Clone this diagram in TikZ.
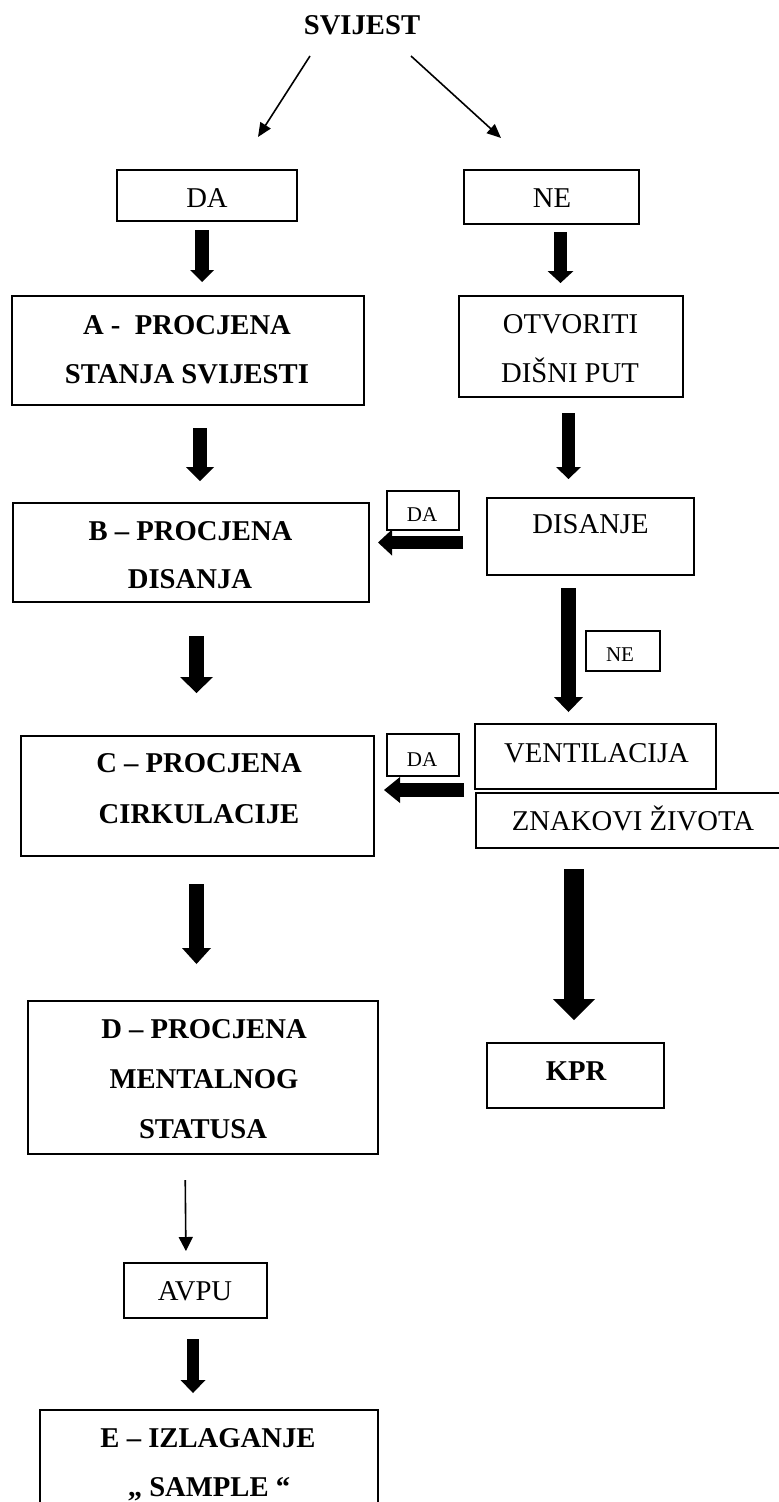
\documentclass[tikz,border=0pt]{standalone}
\usepackage{fontspec}
\setmainfont{Liberation Serif}
\usetikzlibrary{arrows.meta,fit}
\begin{document}
\begin{tikzpicture}[x=0.75pt,y=-0.75pt,
  box/.style={draw, line width=0.9pt, inner sep=0pt, outer sep=0pt},
  bt/.style={font=\fontsize{21.5}{26}\selectfont\bfseries, anchor=base, inner sep=0pt},
  rt/.style={font=\fontsize{21.5}{26}\selectfont, anchor=base, inner sep=0pt},
  st/.style={font=\fontsize{15.75}{19}\selectfont, anchor=base, inner sep=0pt},
  thinarr/.style={line width=1.2pt, -{Triangle[length=10.5pt,width=9pt]}},
  blockarrow/.style n args={3}{line width=#1, -{Triangle[width=#2,length=#3,line width=0pt]}}]
\useasboundingbox (0,0) rectangle (778,1502);

% title
\node[bt] (SV) at (362,35) {SVIJEST};

% boxes
\node[box, fit={(117,170)(297,221)}] (DAtop) {};
\node[box, fit={(464,170)(639,224)}] (NEtop) {};
\node[box, fit={(12,296)(364,405)}] (A) {};
\node[box, fit={(459,296)(683,397)}] (OTV) {};
\node[box, fit={(13,503)(369,602)}] (B) {};
\node[box, fit={(387,491)(459,530)}] (DAs1) {};
\node[box, fit={(487,498)(694,575)}] (DIS) {};
\node[box, fit={(586,631)(660,671)}] (NEs) {};
\node[box, fit={(21,736)(374,856)}] (C) {};
\node[box, fit={(387,734)(459,776)}] (DAs2) {};
\node[box, fit={(475,724)(716,789)}] (VENT) {};
\node[box, fit={(476,793)(780,848)}] (ZNAK) {};
\node[box, fit={(487,1043)(664,1108)}] (KPR) {};
\node[box, fit={(28,1001)(378,1154)}] (D) {};
\node[box, fit={(124,1263)(267,1318)}] (AVPU) {};
\node[box, fit={(40,1410)(378,1515)}] (E) {};

% texts
\node[rt] (tDAtop) at (207,207) {DA};
\node[rt] (tNEtop) at (552,207) {NE};
\node[bt] (tA1) at (187,334) {A -\ \ PROCJENA};
\node[bt] (tA2) at (187,383) {STANJA SVIJESTI};
\node[rt] (tO1) at (570.5,333) {OTVORITI};
\node[rt] (tO2) at (570,382) {DIŠNI PUT};
\node[bt] (tB1) at (190.5,540) {B – PROCJENA};
\node[bt] (tB2) at (190,588) {DISANJA};
\node[st] (tDAs1) at (422,521) {DA};
\node[rt] (tDIS) at (590.5,533) {DISANJE};
\node[st] (tNEs) at (620,661) {NE};
\node[bt] (tC1) at (199,772) {C – PROCJENA};
\node[bt] (tC2) at (199,823) {CIRKULACIJE};
\node[st] (tDAs2) at (422,766) {DA};
\node[rt] (tVENT) at (596.5,762) {VENTILACIJA};
\node[rt] (tZNAK) at (633,830) {ZNAKOVI ŽIVOTA};
\node[bt] (tKPR) at (576,1080) {KPR};
\node[bt] (tD1) at (204,1038) {D – PROCJENA};
\node[bt] (tD2) at (204,1088) {MENTALNOG};
\node[bt] (tD3) at (203,1138) {STATUSA};
\node[rt] (tAVPU) at (195,1300) {AVPU};
\node[bt] (tE1) at (208,1447) {E – IZLAGANJE};
\node[bt] (tE2) at (209,1496) {„ SAMPLE “};

% thin arrows
\draw[thinarr] ([shift={(-52,21)}]SV.base) -- ([shift={(141,-33)}]DAtop.north west);
\draw[thinarr] ([shift={(49,21)}]SV.base) -- ([shift={(37,-32)}]NEtop.north west);
\draw[line width=1.2pt, -{Triangle[length=10.5pt,width=10.5pt]}, shorten <=19.5pt, shorten >=9pt]
  (D.south -| 185,0) -- (AVPU.north -| 186,0);

% block arrows
\draw[blockarrow={10.5pt}{18pt}{9pt}, shorten <=6.75pt, shorten >=10.5pt]
  (DAtop.south -| 202,0) -- (A.north -| 202,0);
\draw[blockarrow={9.75pt}{19.5pt}{9pt}, shorten <=6pt, shorten >=9.75pt]
  (NEtop.south -| 560.5,0) -- (OTV.north -| 560.5,0);
\draw[blockarrow={10.5pt}{21pt}{10.5pt}, shorten <=17.25pt, shorten >=16.5pt]
  (A.south -| 200,0) -- (B.north -| 200,0);
\draw[blockarrow={9.75pt}{18.75pt}{9pt}, shorten <=12pt, shorten >=14.25pt]
  (OTV.south -| 568.5,0) -- (DIS.north -| 568.5,0);
\draw[blockarrow={9.75pt}{19.5pt}{10.5pt}, shorten <=18pt, shorten >=6.75pt]
  (DIS.west |- 0,542.5) -- (B.east |- 0,542.5);
\draw[blockarrow={11.25pt}{21.75pt}{11.25pt}, shorten <=9.75pt, shorten >=9pt]
  (DIS.south -| 568.5,0) -- (VENT.north -| 568.5,0);
\draw[blockarrow={11.25pt}{24.75pt}{12pt}, shorten <=25.5pt, shorten >=32.25pt]
  (B.south -| 196.5,0) -- (C.north -| 196.5,0);
\draw[blockarrow={10.5pt}{19.5pt}{12pt}, shorten <=8.25pt, shorten >=7.5pt]
  (VENT.south west |- 0,790) -- (C.east |- 0,790);
\draw[blockarrow={11.25pt}{21.75pt}{12pt}, shorten <=21pt, shorten >=27.75pt]
  (C.south -| 196.5,0) -- (D.north -| 196.5,0);
\draw[blockarrow={15pt}{31.5pt}{15.75pt}, shorten <=15.75pt, shorten >=17.25pt]
  (ZNAK.south -| 574,0) -- (KPR.north -| 574,0);
\draw[blockarrow={9pt}{18.75pt}{9.75pt}, shorten <=15.75pt, shorten >=12.75pt]
  (AVPU.south -| 193,0) -- (E.north -| 193,0);
\end{tikzpicture}
\end{document}
